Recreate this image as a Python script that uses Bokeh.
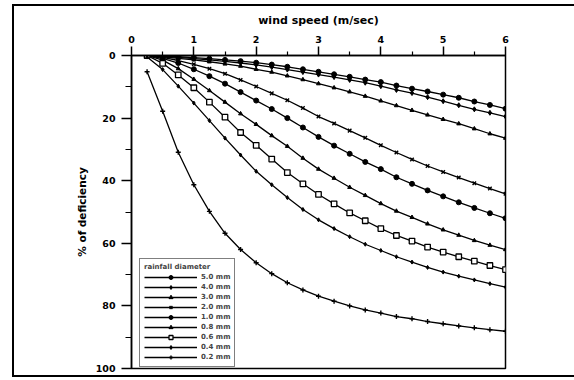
from bokeh.plotting import figure
from bokeh.models import Legend, LegendItem, FixedTicker, Range1d
from bokeh.embed import file_html
from bokeh.resources import INLINE

# wind speed (m/sec)
wind = [0.25, 0.5, 0.75, 1.0, 1.25, 1.5, 1.75, 2.0, 2.25, 2.5, 2.75, 3.0,
        3.25, 3.5, 3.75, 4.0, 4.25, 4.5, 4.75, 5.0, 5.25, 5.5, 5.75, 6.0]

# % of deficiency per rainfall diameter
d50 = [0, 0.2, 0.4, 0.7, 1.0, 1.4, 1.8, 2.3, 2.9, 3.6, 4.4, 5.2,
       6.0, 6.8, 7.7, 8.5, 9.6, 10.6, 11.5, 12.5, 13.5, 14.7, 15.8, 17.0]
d40 = [0, 0.3, 0.6, 1.0, 1.4, 1.9, 2.4, 3.0, 3.7, 4.5, 5.3, 6.1,
       6.9, 7.8, 8.7, 9.8, 11.0, 12.0, 13.3, 14.6, 15.9, 17.2, 18.3, 19.5]
d30 = [0, 0.4, 0.9, 1.4, 2.0, 2.7, 3.4, 4.4, 5.3, 6.5, 7.7, 9.0,
       10.3, 11.6, 13.0, 14.5, 16.0, 17.5, 19.0, 20.4, 21.8, 23.4, 25.0, 26.4]
d20 = [0, 0.6, 1.6, 2.8, 4.2, 5.8, 7.8, 9.9, 12.1, 14.3, 16.8, 19.5,
       21.7, 24.0, 26.3, 28.7, 31.0, 33.2, 35.3, 37.2, 39.0, 40.8, 42.5, 44.2]
d10 = [0, 0.9, 2.4, 4.4, 6.6, 9.0, 11.7, 14.4, 17.1, 20.0, 23.0, 26.0,
       28.8, 31.4, 34.0, 36.3, 38.9, 41.0, 43.1, 45.0, 46.9, 48.7, 50.4, 52.0]
d08 = [0, 1.5, 4.2, 7.6, 11.2, 14.9, 18.6, 22.0, 25.6, 29.0, 32.8, 36.3,
       39.2, 42.1, 44.7, 47.3, 49.7, 51.7, 53.8, 55.7, 57.4, 59.1, 60.6, 62.0]
d06 = [0, 2.5, 6.2, 10.3, 14.9, 19.7, 24.6, 28.7, 33.1, 37.4, 41.0, 44.4,
       47.4, 50.3, 52.8, 55.3, 57.5, 59.3, 61.2, 62.8, 64.3, 65.7, 67.1, 68.4]
d04 = [0.5, 4.5, 9.8, 15.2, 20.8, 26.4, 31.8, 37.0, 41.3, 45.4, 49.2, 52.5,
       55.3, 57.9, 60.3, 62.3, 64.3, 66.0, 67.7, 69.2, 70.5, 71.7, 72.9, 74.0]
d02 = [5.2, 17.8, 30.9, 41.3, 49.8, 56.8, 62.0, 66.2, 69.7, 72.6, 74.9, 76.9,
       78.5, 80.0, 81.3, 82.3, 83.4, 84.1, 85.0, 85.7, 86.4, 87.0, 87.6, 88.1]

labels = ["5.0 mm", "4.0 mm", "3.0 mm", "2.0 mm", "1.0 mm",
          "0.8 mm", "0.6 mm", "0.4 mm", "0.2 mm"]
series = [d50, d40, d30, d20, d10, d08, d06, d04, d02]

x_ticks = [0, 1, 2, 3, 4, 5, 6]
x_minor = [0.5, 1.5, 2.5, 3.5, 4.5, 5.5]
y_ticks = [0, 20, 40, 60, 80, 100]
y_minor = [10, 30, 50, 70, 90]

styles = [
    dict(marker="circle", size=5, fill_color="black", line_width=1),
    dict(marker="diamond", size=5, fill_color="black", line_width=1),
    dict(marker="triangle", size=4, fill_color="black", line_width=1),
    dict(marker="x", size=5, fill_color="black", line_width=1.4),
    dict(marker="circle", size=5, fill_color="black", line_width=1),
    dict(marker="triangle", size=4, fill_color="black", line_width=1),
    dict(marker="square", size=5.5, fill_color="white", line_width=1.3),
    dict(marker="diamond", size=4, fill_color="black", line_width=1),
    dict(marker="cross", size=5, fill_color="black", line_width=1.4),
]

FONT = "DejaVu Sans"

p = figure(width=574, height=380, output_backend="svg", toolbar_location=None,
           x_range=Range1d(0, 6), y_range=Range1d(100, 0),
           x_axis_location="above",
           min_border_left=131, min_border_right=69,
           min_border_top=55, min_border_bottom=12)

p.xgrid.visible = False
p.ygrid.visible = False
p.outline_line_color = "black"
p.outline_line_width = 1.5
p.background_fill_color = "white"
p.border_fill_alpha = 0

# outer frame of the scanned page (left, top and bottom rules)
p.styles = {
    "background-color": "white",
    "background-image": ("linear-gradient(black, black), "
                         "linear-gradient(black, black), "
                         "linear-gradient(black, black)"),
    "background-repeat": "no-repeat",
    "background-position": "12px 4px, 12px 4px, 12px 375px",
    "background-size": "2px 373px, 570px 2px, 570px 2px",
}

xa = p.xaxis[0]
xa.ticker = FixedTicker(ticks=x_ticks, minor_ticks=x_minor)
xa.axis_label = "wind speed (m/sec)"
ya = p.yaxis[0]
ya.ticker = FixedTicker(ticks=y_ticks, minor_ticks=y_minor)
ya.axis_label = "% of deficiency"

for ax in (xa, ya):
    ax.axis_line_color = "black"
    ax.axis_line_width = 1.5
    ax.major_tick_line_color = "black"
    ax.major_tick_line_width = 1.5
    ax.minor_tick_line_color = "black"
    ax.minor_tick_line_width = 1.2
    ax.major_tick_in = 0
    ax.minor_tick_in = 0
    ax.major_label_text_font = FONT
    ax.major_label_text_font_style = "bold"
    ax.major_label_text_font_size = "9.5px"
    ax.major_label_text_color = "black"
    ax.axis_label_text_font = FONT
    ax.axis_label_text_font_style = "bold"
    ax.axis_label_text_color = "black"

xa.major_tick_out = 9
xa.minor_tick_out = 4
xa.major_label_standoff = 4
xa.axis_label_standoff = 6
xa.axis_label_text_font_size = "11px"

ya.major_tick_out = 10
ya.minor_tick_out = 6
ya.major_label_standoff = 6
ya.axis_label_standoff = 5
ya.axis_label_text_font_size = "10.5px"

items = []
for lab, ys, st in zip(labels, series, styles):
    ln = p.line(wind, ys, line_color="black", line_width=1.3)
    sc = p.scatter(wind, ys, marker=st["marker"], size=st["size"],
                   fill_color=st["fill_color"], line_color="black",
                   line_width=st["line_width"])
    items.append(LegendItem(label=lab, renderers=[ln, sc]))

legend = Legend(items=items, location=(8, 1),
                title="rainfall diameter",
                title_text_font=FONT, title_text_font_style="bold",
                title_text_font_size="7px", title_standoff=1,
                label_text_font=FONT, label_text_font_style="bold",
                label_text_font_size="7px",
                glyph_width=53, glyph_height=10, label_height=10,
                label_standoff=4, spacing=0, padding=4, margin=0,
                border_line_color="black", border_line_width=1.5,
                background_fill_color="white", background_fill_alpha=1)
p.add_layout(legend, "center")

open("out.html", "w").write(file_html(p, INLINE))
